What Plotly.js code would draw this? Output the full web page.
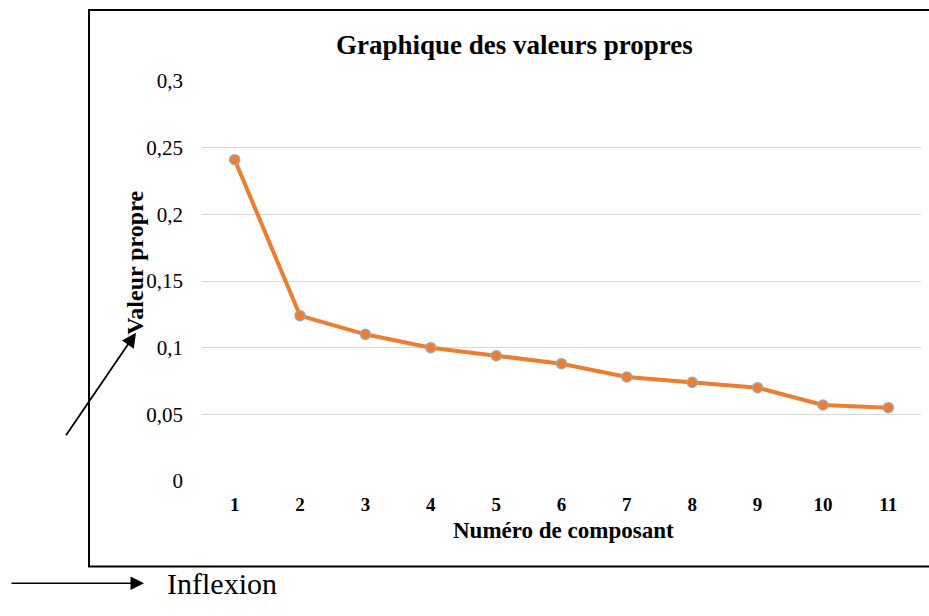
<!DOCTYPE html>
<html>
<head>
<meta charset="utf-8">
<script src="https://cdn.plot.ly/plotly-3.0.1.min.js"></script>
<style>html,body{margin:0;padding:0;background:#fff;}#chart{width:929px;height:616px;}</style>
</head>
<body>
<div id="chart"></div>
<script>
const components = ['1','2','3','4','5','6','7','8','9','10','11'];
const eigenvalues = [0.241, 0.124, 0.110, 0.100, 0.094, 0.088, 0.078, 0.074, 0.070, 0.057, 0.055];
const yTickVals = [0, 0.05, 0.1, 0.15, 0.2, 0.25, 0.3];
const yTickText = ['0', '0,05', '0,1', '0,15', '0,2', '0,25', '0,3'];

const serif = 'Liberation Serif';

const trace = {
  x: components,
  y: eigenvalues,
  type: 'scatter',
  mode: 'lines+markers',
  line: {color: '#ED7D31', width: 4},
  marker: {color: '#ED7D31', size: 10, line: {color: '#A5A5A5', width: 1.5}},
  hoverinfo: 'skip'
};

const L = 202, R = 921, T = 81, B = 481.5, W = 929, H = 616;
const px = v => (v - L) / (R - L);
const py = v => (B - v) / (B - T);

const layout = {
  width: W, height: H,
  margin: {l: L, r: W - R, t: T, b: H - B},
  paper_bgcolor: '#fff', plot_bgcolor: '#fff',
  showlegend: false,
  separators: ', ',
  font: {family: serif, color: '#000'},
  xaxis: {
    type: 'category',
    range: [-0.5, 10.5],
    showgrid: false, zeroline: false, showline: false,
    ticks: '',
    tickfont: {family: serif, size: 19, color: '#000', weight: 'bold'},
    ticklabelstandoff: 10
  },
  yaxis: {
    range: [0, 0.3],
    tickvals: yTickVals, ticktext: yTickText,
    showgrid: true, gridcolor: '#D9D9D9', gridwidth: 1,
    zeroline: false, showline: false, ticks: '',
    tickfont: {family: serif, size: 21, color: '#000'},
    ticklabelstandoff: 18
  },
  shapes: [
    {type: 'rect', xref: 'paper', yref: 'paper', x0: px(89), x1: px(960), y0: py(567), y1: py(10),
     line: {color: '#000', width: 2}, fillcolor: 'rgba(0,0,0,0)', layer: 'below'}
  ],
  annotations: [
    {xref: 'paper', yref: 'paper', x: px(514), y: py(45), text: '<b>Graphique des valeurs propres</b>',
     showarrow: false, font: {family: serif, size: 27, color: '#000'}, xanchor: 'center', yanchor: 'middle'},
    {xref: 'paper', yref: 'paper', x: px(563), y: py(531), text: '<b>Numéro de composant</b>',
     showarrow: false, font: {family: serif, size: 23, color: '#000'}, xanchor: 'center', yanchor: 'middle'},
    {xref: 'paper', yref: 'paper', x: px(135), y: py(263), text: '<b>Valeur propre</b>', textangle: -90,
     showarrow: false, font: {family: serif, size: 24, color: '#000'}, xanchor: 'center', yanchor: 'middle'},
    {xref: 'paper', yref: 'paper', x: px(136), y: py(333), text: '', showarrow: true,
     ax: 65 - 136, ay: 437 - 333, arrowhead: 2, arrowsize: 1.6, arrowwidth: 1.8, arrowcolor: '#000'},
    {xref: 'paper', yref: 'paper', x: px(144), y: py(584), text: '', showarrow: true,
     ax: 10 - 144, ay: 0, arrowhead: 2, arrowsize: 1.8, arrowwidth: 1.5, arrowcolor: '#000'},
    {xref: 'paper', yref: 'paper', x: px(165), y: py(584), text: 'Inflexion',
     showarrow: false, font: {family: serif, size: 30, color: '#000'}, xanchor: 'left', yanchor: 'middle'}
  ]
};

Plotly.newPlot('chart', [trace], layout, {displayModeBar: false, staticPlot: true});
</script>
</body>
</html>
